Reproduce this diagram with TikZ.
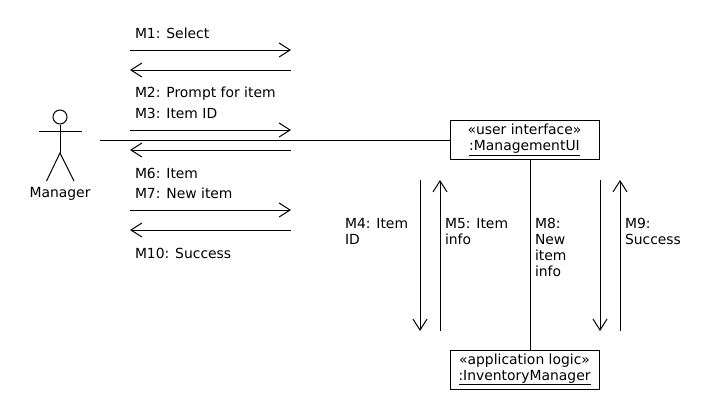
\documentclass[tikz,border=0pt]{standalone}
\usepackage{fontspec}
\setmainfont{DejaVu Sans}
\usetikzlibrary{arrows.meta}
\tikzset{
    msg/.style={-{Straight Barb[length=11pt,width=14pt,line width=1pt]},line width=1pt},
    lbl/.style={anchor=west,inner sep=0pt,align=left,font=\fontsize{13.9}{16}\selectfont},
    obj/.style={draw,line width=1pt,minimum width=149pt,minimum height=39pt,inner sep=0pt,align=center,font=\fontsize{13.9}{16}\selectfont},
}
\begin{document}
\begin{tikzpicture}[x=1pt,y=-1pt,line width=1pt]
    \useasboundingbox (0,0) rectangle (720,410);

    % objects
    \node[obj] (ui) at (524.5,140) {«user interface»\\\underline{:ManagementUI}};
    \node[obj] (im) at (524.5,369.5) {«application logic»\\\underline{:InventoryManager}};

    % actor
    \node[draw,circle,line width=1pt,minimum size=14pt,inner sep=0pt] (head) at (60,117) {};
    \coordinate (armL) at (39,131);
    \coordinate (armR) at (82,131);
    \coordinate (hip) at (60,153);
    \coordinate (footL) at (46.5,181);
    \coordinate (footR) at (74,181);
    \draw (armL) -- (armR);
    \draw (head) -- (hip);
    \draw (footL) -- (hip) -- (footR);
    \node[lbl,anchor=center] (manager) at (60,193.5) {Manager};

    % links
    \coordinate (linkA) at (100,140);
    \coordinate (linkB) at (530,159);
    \coordinate (linkC) at (530,350);
    \draw (linkA) -- (ui);
    \draw (linkB) -- (linkC);

    % messages to the left of the link
    \coordinate (a1) at (130,50);   \coordinate (b1) at (291,50);
    \coordinate (a2) at (130,70);   \coordinate (b2) at (291,70);
    \coordinate (a3) at (130,130);  \coordinate (b3) at (291,130);
    \coordinate (a6) at (130,150);  \coordinate (b6) at (291,150);
    \coordinate (a7) at (130,210);  \coordinate (b7) at (291,210);
    \coordinate (a10) at (130,230); \coordinate (b10) at (291,230);
    \draw[msg] (a1) -- (b1);
    \draw[msg] (b2) -- (a2);
    \draw[msg] (a3) -- (b3);
    \draw[msg] (b6) -- (a6);
    \draw[msg] (a7) -- (b7);
    \draw[msg] (b10) -- (a10);

    % messages beside the link
    \coordinate (t4) at (420,180);  \coordinate (e4) at (420,331);
    \coordinate (t5) at (440,180);  \coordinate (e5) at (440,331);
    \coordinate (t9) at (600,180);  \coordinate (e9) at (600,331);
    \coordinate (t10) at (620,180); \coordinate (e10) at (620,331);
    \draw[msg] (t4) -- (e4);
    \draw[msg] (e5) -- (t5);
    \draw[msg] (t9) -- (e9);
    \draw[msg] (e10) -- (t10);

    % labels
    \node[lbl] (m1) at (134.5,33.5) {M1: Select};
    \node[lbl] (m2) at (134.5,93.5) {M2: Prompt for item};
    \node[lbl] (m3) at (134.5,113.5) {M3: Item ID};
    \node[lbl] (m6) at (134.5,173.5) {M6: Item};
    \node[lbl] (m7) at (134.5,193.5) {M7: New item};
    \node[lbl] (m10) at (134.5,253.5) {M10: Success};
    \node[lbl] (m4) at (344.5,231.5) {M4: Item\\ID};
    \node[lbl] (m5) at (444.5,231.5) {M5: Item\\info};
    \node[lbl] (m8) at (534.5,247.5) {M8:\\New\\item\\info};
    \node[lbl] (m9) at (624.5,231.5) {M9:\\Success};
\end{tikzpicture}
\end{document}
